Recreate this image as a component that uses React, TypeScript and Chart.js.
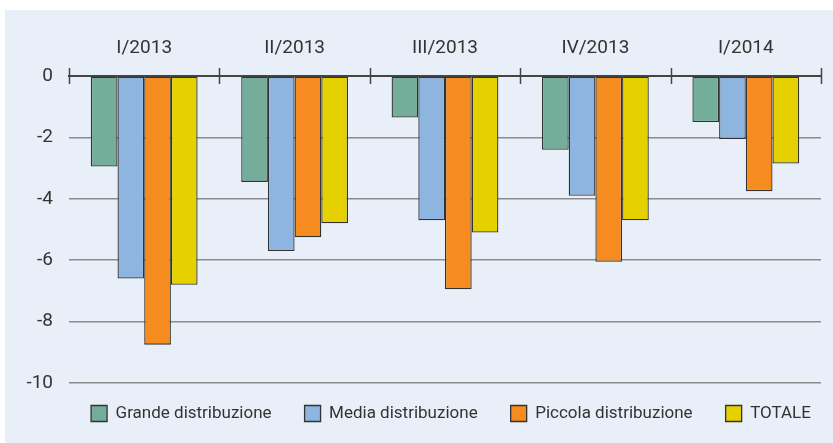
import React, { useEffect, useRef } from "react";
import { Chart, registerables } from "chart.js";

Chart.register(...registerables);

const categories = ["I/2013", "II/2013", "III/2013", "IV/2013", "I/2014"];
const grande = [-2.95, -3.45, -1.35, -2.4, -1.5];
const media = [-6.6, -5.7, -4.7, -3.9, -2.05];
const piccola = [-8.75, -5.25, -6.95, -6.05, -3.75];
const totale = [-6.8, -4.8, -5.1, -4.7, -2.85];
const seriesNames = [
  "Grande distribuzione",
  "Media distribuzione",
  "Piccola distribuzione",
  "TOTALE",
];
const seriesColors = ["#74ad9a", "#8db5df", "#f68c1f", "#e5d100"];
const yTicks = [0, -2, -4, -6, -8, -10];

const FONT = "Roboto, 'Liberation Sans', sans-serif";
const TEXT = "#333333";

const crossTicks = {
  id: "crossTicks",
  afterDraw(chart: any) {
    const xs = chart.scales.x;
    const ctx = chart.ctx;
    const n = xs.ticks.length;
    const top = chart.chartArea.top;
    ctx.save();
    ctx.strokeStyle = "#444444";
    ctx.lineWidth = 1.5;
    for (let i = 0; i <= n; i++) {
      const x = Math.round(xs.left + (i * xs.width) / n) + 0.5;
      ctx.beginPath();
      ctx.moveTo(x, top - 8);
      ctx.lineTo(x, top + 8);
      ctx.stroke();
    }
    ctx.restore();
  },
};

const legendShift = {
  id: "legendShift",
  afterLayout(chart: any) {
    const lg = chart.legend;
    if (!lg) return;
    const dx = 38;
    const dy = -11;
    lg.left += dx;
    lg.right += dx;
    lg.top += dy;
    lg.bottom += dy;
  },
};

export default function App() {
  const ref = useRef<HTMLCanvasElement | null>(null);

  useEffect(() => {
    if (!ref.current) return;
    const values = [grande, media, piccola, totale];
    const chart = new Chart(ref.current, {
      type: "bar",
      data: {
        labels: categories,
        datasets: values.map((v, i) => ({
          label: seriesNames[i],
          data: v,
          backgroundColor: seriesColors[i],
          borderColor: "#333333",
          borderWidth: 1.3,
          borderSkipped: false,
          categoryPercentage: 0.71,
          barPercentage: 1.0,
        })),
      },
      options: {
        responsive: false,
        animation: false,
        devicePixelRatio: 1,
        layout: { padding: { left: 0, right: 12, top: 0, bottom: 0 } },
        font: { family: FONT },
        plugins: {
          tooltip: { enabled: false },
          legend: {
            position: "bottom",
            labels: {
              boxWidth: 16,
              boxHeight: 16,
              padding: 33,
              color: TEXT,
              font: { family: FONT, size: 17 },
            },
          },
        },
        scales: {
          x: {
            type: "category",
            position: "top",
            grid: { display: false, drawTicks: false },
            border: { display: true, color: "#444444", width: 2 },
            ticks: {
              color: TEXT,
              font: { family: FONT, size: 19 },
              padding: 16,
              maxRotation: 0,
            },
            afterFit: (s: any) => {
              s.height = 66;
            },
          },
          y: {
            min: -10,
            max: 0,
            border: { display: false },
            grid: { color: "#8c8c8c", lineWidth: 1.5, drawTicks: false },
            ticks: {
              color: TEXT,
              font: { family: FONT, size: 19 },
              padding: 16,
            },
            afterBuildTicks: (s: any) => {
              s.ticks = yTicks.map((v) => ({ value: v }));
            },
            afterFit: (s: any) => {
              s.width = 64;
            },
          },
        },
      },
      plugins: [crossTicks, legendShift],
    });
    return () => chart.destroy();
  }, []);

  return (
    <div
      style={{
        position: "absolute",
        left: 5,
        top: 10,
        width: 828,
        height: 433,
        background: "#e9eff8",
      }}
    >
      <canvas ref={ref} width={828} height={433} style={{ display: "block" }} />
    </div>
  );
}
